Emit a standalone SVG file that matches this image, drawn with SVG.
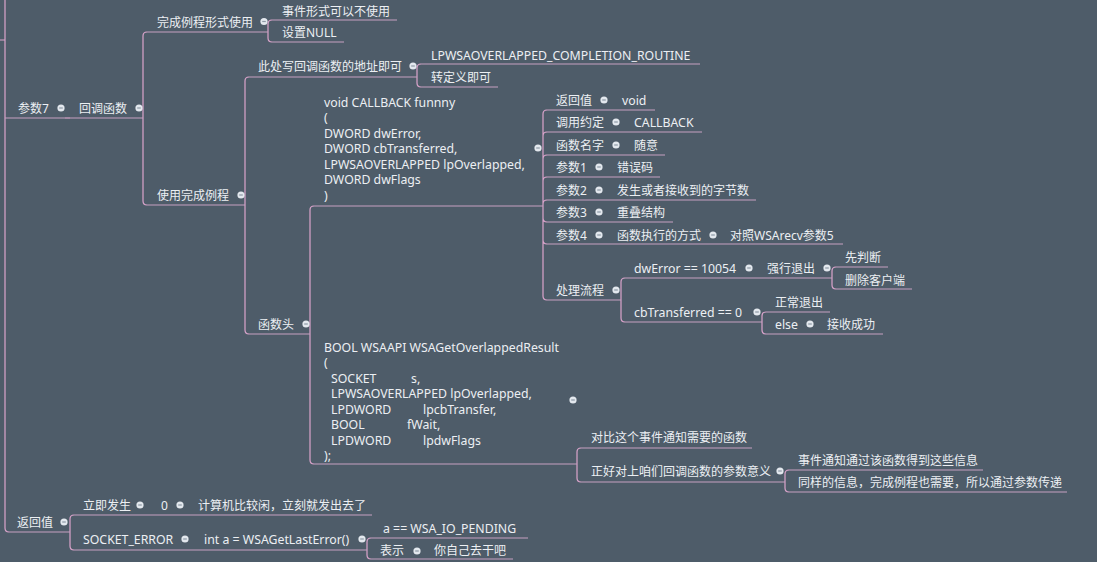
<svg xmlns="http://www.w3.org/2000/svg" xmlns:xlink="http://www.w3.org/1999/xlink" width="1097" height="562" viewBox="0 0 1097 562">
<style>
.t{font-family:"Noto Sans","Noto Sans CJK SC",sans-serif;font-size:12px;fill:#eceff3}
.lt{font-size:12.3px}
.ul{stroke:#c6a0c1;stroke-width:1.2;fill:none}
.cn{stroke:#dba4cc;stroke-width:1.2;fill:none}
</style>
<defs>
<g id="dot"><circle r="3.6" fill="#e3e8ee"/><rect x="-1.8" y="-0.6" width="3.6" height="1.2" fill="#8e99a6"/></g>
</defs>
<rect width="1097" height="562" fill="#4e5c69"/>
<g id="connectors">
<path class="cn" d="M0,40 H5 M5,0 V528 Q5,532 9,532"/>
<path class="cn" d="M65,118 H70"/>
<path class="cn" d="M143,118 V36 Q143,32 147,32 M143,118 V201 Q143,205 147,205"/>
<path class="cn" d="M268,32 V24 Q268,20 272,20 M268,32 V38 Q268,42 272,42"/>
<path class="cn" d="M245,205 V81 Q245,77 249,77 M245,205 V330 Q245,334 249,334"/>
<path class="cn" d="M417,77 V68 Q417,64 421,64 M417,77 V83 Q417,87 421,87"/>
<path class="cn" d="M310,334 V210 Q310,206 314,206 M310,334 V460 Q310,464 314,464"/>
<path class="cn" d="M543,206 V114 Q543,110 547,110 M543,206 V136 Q543,132 547,132 M543,206 V159 Q543,155 547,155 M543,206 V181 Q543,177 547,177 M543,206 V204 Q543,200 547,200 M543,206 V218 Q543,222 547,222 M543,206 V240 Q543,244 547,244 M543,206 V296 Q543,300 547,300"/>
<path class="cn" d="M621,300 V282 Q621,278 625,278 M621,300 V318 Q621,322 625,322"/>
<path class="cn" d="M832,278 V271 Q832,267 836,267 M832,278 V285 Q832,289 836,289"/>
<path class="cn" d="M762,322 V316 Q762,312 766,312 M762,322 V330 Q762,334 766,334"/>
<path class="cn" d="M577,464 V452 Q577,448 581,448 M577,464 V478 Q577,482 581,482"/>
<path class="cn" d="M785,482 V474 Q785,470 789,470 M785,482 V488 Q785,492 789,492"/>
<path class="cn" d="M70,532 V519 Q70,515 74,515 M70,532 V546 Q70,550 74,550"/>
<path class="cn" d="M367,550 V542 Q367,538 371,538 M367,550 V555 Q367,559 371,559"/>
</g>
<g id="n1"><text class="t" x="18" y="113">参数7</text><path class="ul" d="M5,118 H65"/><use href="#dot" x="61" y="108"/></g>
<g id="n2"><text class="t" x="79" y="113">回调函数</text><path class="ul" d="M70,118 H143"/><use href="#dot" x="139" y="108"/></g>
<g id="n3"><text class="t" x="157" y="26.5">完成例程形式使用</text><path class="ul" d="M147,32 H268"/><use href="#dot" x="264" y="21.5"/></g>
<g id="n4"><text class="t" x="282" y="15.5">事件形式可以不使用</text><path class="ul" d="M272,20 H397"/></g>
<g id="n5"><text class="t" x="282" y="37">设置NULL</text><path class="ul" d="M272,42 H344"/></g>
<g id="n6"><text class="t" x="157" y="199.5">使用完成例程</text><path class="ul" d="M147,205 H245"/><use href="#dot" x="241" y="195"/></g>
<g id="n7"><text class="t" x="258" y="71">此处写回调函数的地址即可</text><path class="ul" d="M249,77 H417"/><use href="#dot" x="413" y="66"/></g>
<g id="n8"><text class="t lt" x="431" y="60">LPWSAOVERLAPPED_COMPLETION_ROUTINE</text><path class="ul" d="M421,64 H700"/></g>
<g id="n9"><text class="t" x="431" y="81.5">转定义即可</text><path class="ul" d="M421,87 H498"/></g>
<g id="n10"><text class="t" x="258" y="328.5">函数头</text><path class="ul" d="M249,334 H310"/><use href="#dot" x="306" y="324"/></g>
<g id="n11"><text class="t lt" x="324" y="106.5"><tspan x="324">void CALLBACK funnny</tspan><tspan x="324" dy="15.57">(</tspan><tspan x="324" dy="15.57">DWORD dwError,</tspan><tspan x="324" dy="15.57">DWORD cbTransferred,</tspan><tspan x="324" dy="15.57">LPWSAOVERLAPPED lpOverlapped,</tspan><tspan x="324" dy="15.57">DWORD dwFlags</tspan><tspan x="324" dy="15.57">)</tspan></text><path class="ul" d="M314,206 H543"/><use href="#dot" x="538" y="148"/></g>
<g id="n12"><text class="t" x="556" y="104.5">返回值</text><path class="ul" d="M547,110 H608"/><use href="#dot" x="604" y="100"/></g>
<g id="n13"><text class="t lt" x="622" y="104.5">void</text><path class="ul" d="M608,110 H655"/></g>
<g id="n14"><text class="t" x="556" y="126.5">调用约定</text><path class="ul" d="M547,132 H620"/><use href="#dot" x="616" y="122"/></g>
<g id="n15"><text class="t lt" x="634" y="126.5">CALLBACK</text><path class="ul" d="M620,132 H702"/></g>
<g id="n16"><text class="t" x="556" y="149.5">函数名字</text><path class="ul" d="M547,155 H620"/><use href="#dot" x="616" y="145"/></g>
<g id="n17"><text class="t" x="634" y="149.5">随意</text><path class="ul" d="M620,155 H665"/></g>
<g id="n18"><text class="t" x="556" y="171.5">参数1</text><path class="ul" d="M547,177 H603"/><use href="#dot" x="599" y="167"/></g>
<g id="n19"><text class="t" x="617" y="171.5">错误码</text><path class="ul" d="M603,177 H660"/></g>
<g id="n20"><text class="t" x="556" y="194.5">参数2</text><path class="ul" d="M547,200 H603"/><use href="#dot" x="599" y="190"/></g>
<g id="n21"><text class="t" x="617" y="194.5">发生或者接收到的字节数</text><path class="ul" d="M603,200 H756"/></g>
<g id="n22"><text class="t" x="556" y="216.5">参数3</text><path class="ul" d="M547,222 H603"/><use href="#dot" x="599" y="212"/></g>
<g id="n23"><text class="t" x="617" y="216.5">重叠结构</text><path class="ul" d="M603,222 H673"/></g>
<g id="n24"><text class="t" x="556" y="239.5">参数4</text><path class="ul" d="M547,244 H603"/><use href="#dot" x="599" y="235"/></g>
<g id="n25"><text class="t" x="617" y="239.5">函数执行的方式</text><path class="ul" d="M603,244 H717"/><use href="#dot" x="713" y="235"/></g>
<g id="n26"><text class="t" x="730" y="239.5">对照WSArecv参数5</text><path class="ul" d="M717,244 H843"/></g>
<g id="n27"><text class="t" x="556" y="294.5">处理流程</text><path class="ul" d="M547,300 H621"/><use href="#dot" x="616" y="290"/></g>
<g id="n28"><text class="t lt" x="634" y="272.5">dwError == 10054</text><path class="ul" d="M625,278 H753"/><use href="#dot" x="749" y="268"/></g>
<g id="n29"><text class="t" x="767" y="272.5">强行退出</text><path class="ul" d="M753,278 H832"/><use href="#dot" x="827" y="268"/></g>
<g id="n30"><text class="t" x="845" y="261.5">先判断</text><path class="ul" d="M836,267 H888"/></g>
<g id="n31"><text class="t" x="845" y="284.5">删除客户端</text><path class="ul" d="M836,289 H912"/></g>
<g id="n32"><text class="t lt" x="634" y="316.5">cbTransferred == 0</text><path class="ul" d="M625,322 H762"/><use href="#dot" x="757" y="312"/></g>
<g id="n33"><text class="t" x="775" y="306.5">正常退出</text><path class="ul" d="M766,312 H830"/></g>
<g id="n34"><text class="t lt" x="775" y="329">else</text><path class="ul" d="M766,334 H814"/><use href="#dot" x="810" y="324"/></g>
<g id="n35"><text class="t" x="827" y="329">接收成功</text><path class="ul" d="M814,334 H883"/></g>
<g id="n36"><text class="t lt" x="324" y="351.5"><tspan x="324">BOOL WSAAPI WSAGetOverlappedResult</tspan><tspan x="324" dy="15.57">(</tspan><tspan x="331" dy="15.57">SOCKET</tspan><tspan x="411">s,</tspan><tspan x="331" dy="15.57">LPWSAOVERLAPPED lpOverlapped,</tspan><tspan x="331" dy="15.57">LPDWORD</tspan><tspan x="423">lpcbTransfer,</tspan><tspan x="331" dy="15.57">BOOL</tspan><tspan x="407">fWait,</tspan><tspan x="331" dy="15.57">LPDWORD</tspan><tspan x="423">lpdwFlags</tspan><tspan x="324" dy="15.57">);</tspan></text><path class="ul" d="M314,464 H577"/><use href="#dot" x="573" y="400"/></g>
<g id="n37"><text class="t" x="591" y="441.5">对比这个事件通知需要的函数</text><path class="ul" d="M581,448 H752"/></g>
<g id="n38"><text class="t" x="591" y="476">正好对上咱们回调函数的参数意义</text><path class="ul" d="M581,482 H785"/><use href="#dot" x="780" y="471"/></g>
<g id="n39"><text class="t" x="798" y="464.5">事件通知通过该函数得到这些信息</text><path class="ul" d="M789,470 H983"/></g>
<g id="n40"><text class="t" x="798" y="486.5">同样的信息，完成例程也需要，所以通过参数传递</text><path class="ul" d="M789,492 H1067"/></g>
<g id="n41"><text class="t" x="17" y="526.5">返回值</text><path class="ul" d="M9,532 H70"/><use href="#dot" x="64" y="522"/></g>
<g id="n42"><text class="t" x="83" y="509.5">立即发生</text><path class="ul" d="M74,515 H145"/><use href="#dot" x="140" y="505"/></g>
<g id="n43"><text class="t" x="161" y="509.5">0</text><path class="ul" d="M145,515 H184"/><use href="#dot" x="180" y="505"/></g>
<g id="n44"><text class="t" x="198" y="509.5">计算机比较闲，立刻就发出去了</text><path class="ul" d="M184,515 H372"/></g>
<g id="n45"><text class="t lt" x="83" y="543.5">SOCKET_ERROR</text><path class="ul" d="M74,550 H190"/><use href="#dot" x="185" y="539"/></g>
<g id="n46"><text class="t lt" x="204" y="543.5">int a = WSAGetLastError()</text><path class="ul" d="M190,550 H367"/><use href="#dot" x="362" y="539"/></g>
<g id="n47"><text class="t lt" x="383" y="532.5">a == WSA_IO_PENDING</text><path class="ul" d="M371,538 H528"/></g>
<g id="n48"><text class="t" x="380" y="555">表示</text><path class="ul" d="M371,559 H421"/><use href="#dot" x="417" y="551"/></g>
<g id="n49"><text class="t" x="434" y="555">你自己去干吧</text><path class="ul" d="M421,559 H513"/></g>
</svg>
